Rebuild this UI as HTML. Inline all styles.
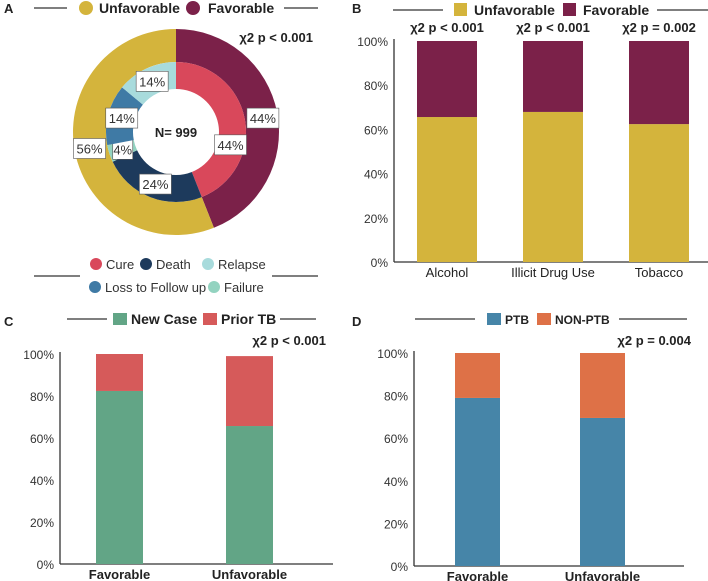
<!DOCTYPE html>
<html><head><meta charset="utf-8"><style>
body{margin:0;background:#fff;}
svg{display:block;font-family:"Liberation Sans",Arial,sans-serif;}
</style></head><body>
<svg id="s" width="708" height="581" viewBox="0 0 708 581" xmlns="http://www.w3.org/2000/svg"></svg>
<script>
// ---------- data ----------
const outerLabels = ["Favorable","Unfavorable"];
const outerValues = [44,56];
const innerLabels = ["Cure","Death","Failure","Loss to Follow up","Relapse"];
const innerValues = [44,24,4,14,14];
const bCategories = ["Alcohol","Illicit Drug Use","Tobacco"];
const bUnfav = [65.6,67.9,62.4];
const bFav = [34.4,32.1,37.6];
const bPvals = ["χ2 p < 0.001","χ2 p < 0.001","χ2 p = 0.002"];
const cCategories = ["Favorable","Unfavorable"];
const cNew = [82.4,65.7];
const cPrior = [17.6,33.3];
const dCategories = ["Favorable","Unfavorable"];
const dPTB = [78.9,69.5];
const dNon = [21.1,30.5];
const yTicks = [0,20,40,60,80,100];

const S=document.getElementById('s');const NS='http://www.w3.org/2000/svg';
function el(t,a,txt){const e=document.createElementNS(NS,t);for(const k in a)e.setAttribute(k,a[k]);if(txt!=null)e.textContent=txt;S.appendChild(e);return e;}
function line(x1,y1,x2,y2,name){const e=el('line',{x1,y1,x2,y2,stroke:'#333','stroke-width':1.3});

return e;}
function text(x,y,s,o,name){const a=Object.assign({x,y,'font-size':13,fill:'#222'},o||{});const e=el('text',a,s);

return e;}

// panel letters
[["A",4,13],["B",352,13],["C",4,326],["D",352,326]].forEach(p=>{text(p[1],p[2],p[0],{'font-weight':'bold','font-size':13},'panel-label-'+p[0].toLowerCase());});

// ---------- Panel A donut ----------
const cx=176,cy=132;
function arc(r0,r1,a0,a1){const p=(r,a)=>[cx+r*Math.sin(a),cy-r*Math.cos(a)];const lg=(a1-a0)>Math.PI?1:0;
const A=p(r1,a0),B=p(r1,a1),C=p(r0,a1),D=p(r0,a0);
return `M${A}A${r1},${r1} 0 ${lg} 1 ${B}L${C}A${r0},${r0} 0 ${lg} 0 ${D}Z`;}
const outerColors=["#7b2149","#d4b43c"];
const innerColors=["#d9485b","#1d3a5c","#93d3c0","#3f7aa5","#a8dbdc"];
function ring(vals,labels,colors,r0,r1,nameP,lr,shift){let tot=vals.reduce((a,b)=>a+b,0),a=0;
vals.forEach((v,i)=>{const a0=a/tot*2*Math.PI;a+=v;const a1=a/tot*2*Math.PI;
const e=el('path',{d:arc(r0,r1,a0,a1),fill:colors[i]});


const m=(a0+a1)/2+(shift&&i===0?shift:0),lx=cx+lr*Math.sin(m),ly=cy-lr*Math.cos(m);
const w=v<10?20:32;
const bx=el('rect',{x:lx-w/2,y:ly-10,width:w,height:20,fill:'#fff',stroke:'#555','stroke-width':0.6});


text(lx,ly+5,v+'%',{'text-anchor':'middle','font-size':13,fill:'#333'},nameP+'-label');});}
ring(outerValues,outerLabels,outerColors,70,103,'outer-slice',88,0.03);
ring(innerValues,innerLabels,innerColors,43,70,'inner-slice',56,0.42);
text(cx,cy+5,"N= 999",{'text-anchor':'middle','font-weight':'bold','font-size':13},'center-total');
text(313,42,"χ2 p < 0.001",{'text-anchor':'end','font-weight':'bold','font-size':13},'a-pvalue');
// legend A top
line(34,8,67,8,'a-legend-line-left');line(284,8,318,8,'a-legend-line-right');
[[86,"#d4b43c","Unfavorable",99],[193,"#7b2149","Favorable",208]].forEach(l=>{const c=el('circle',{cx:l[0],cy:8,r:7,fill:l[1]});

text(l[3],13,l[2],{'font-weight':'bold','font-size':14},'a-legend-entry');});
// legend A bottom
line(34,276,80,276,'a-legend2-line-left');line(272,276,318,276,'a-legend2-line-right');
[[96,264,"#d9485b","Cure"],[146,264,"#1d3a5c","Death"],[208,264,"#a8dbdc","Relapse"],[95,287,"#3f7aa5","Loss to Follow up"],[214,287,"#93d3c0","Failure"]].forEach(l=>{
const c=el('circle',{cx:l[0],cy:l[1],r:6,fill:l[2]});
text(l[0]+10,l[1]+5,l[3],{'font-size':13,fill:'#333'},'a-legend2-entry');});

// ---------- generic stacked bar panel ----------
function stacked(o){const y=v=>o.y0-(o.y0-o.y100)*v/100;
line(o.ax,o.y100-2,o.ax,o.y0,o.p+'-y-axis');line(o.ax,o.y0,o.axEnd,o.y0,o.p+'-x-axis');
yTicks.forEach(t=>text(o.ax-6,y(t)+5,t+'%',{'text-anchor':'end','font-size':12,fill:'#333'},o.p+'-y-tick'));
o.cats.forEach((c,i)=>{const x=o.x0+i*o.step;
const b1=el('rect',{x,y:y(o.s1[i]),width:o.bw,height:o.y0-y(o.s1[i]),fill:o.c1});

const b2=el('rect',{x,y:y(o.s1[i]+o.s2[i]),width:o.bw,height:y(o.s1[i])-y(o.s1[i]+o.s2[i]),fill:o.c2});

text(x+o.bw/2,o.y0+15,c,{'text-anchor':'middle','font-size':13,'font-weight':o.bold?'bold':'normal',fill:'#222'},o.p+'-x-label');
if(o.pv)text(x+o.bw/2,32,o.pv[i],{'text-anchor':'middle','font-weight':'bold','font-size':13},o.p+'-pvalue');});}

// Panel B
stacked({p:'b',ax:394,axEnd:708,y0:262,y100:41,x0:417,step:106,bw:60,cats:bCategories,s1:bUnfav,s2:bFav,c1:'#d4b43c',c2:'#7b2149',n1:'unfavorable',n2:'favorable',pv:bPvals});
line(393,10,443,10,'b-legend-line-left');line(657,10,708,10,'b-legend-line-right');
[[454,"#d4b43c","Unfavorable"],[563,"#7b2149","Favorable"]].forEach(l=>{const r=el('rect',{x:l[0],y:3,width:13,height:13,fill:l[1]});

text(l[0]+20,15,l[2],{'font-weight':'bold','font-size':14},'b-legend-entry');});

// Panel C
stacked({p:'c',ax:60,axEnd:333,y0:564,y100:354,x0:96,step:130,bw:47,cats:cCategories,s1:cNew,s2:cPrior,c1:'#62a586',c2:'#d65a5a',n1:'new-case',n2:'prior-tb',bold:true});
text(326,345,"χ2 p < 0.001",{'text-anchor':'end','font-weight':'bold','font-size':13},'c-pvalue');
line(67,319,107,319,'c-legend-line-left');line(280,319,316,319,'c-legend-line-right');
[[113,"#62a586","New Case"],[203,"#d65a5a","Prior TB"]].forEach(l=>{const r=el('rect',{x:l[0],y:313,width:14,height:12,fill:l[1]});

text(l[0]+18,324,l[2],{'font-weight':'bold','font-size':14},'c-legend-entry');});

// Panel D
stacked({p:'d',ax:414,axEnd:684,y0:566,y100:353,x0:455,step:125,bw:45,cats:dCategories,s1:dPTB,s2:dNon,c1:'#4685a8',c2:'#de7147',n1:'ptb',n2:'non-ptb',bold:true});
text(691,345,"χ2 p = 0.004",{'text-anchor':'end','font-weight':'bold','font-size':13},'d-pvalue');
line(415,319,475,319,'d-legend-line-left');line(619,319,687,319,'d-legend-line-right');
[[487,"#4685a8","PTB"],[537,"#de7147","NON-PTB"]].forEach(l=>{const r=el('rect',{x:l[0],y:313,width:14,height:12,fill:l[1]});

text(l[0]+18,324,l[2],{'font-weight':'bold','font-size':12},'d-legend-entry');});
</script>
</body></html>
